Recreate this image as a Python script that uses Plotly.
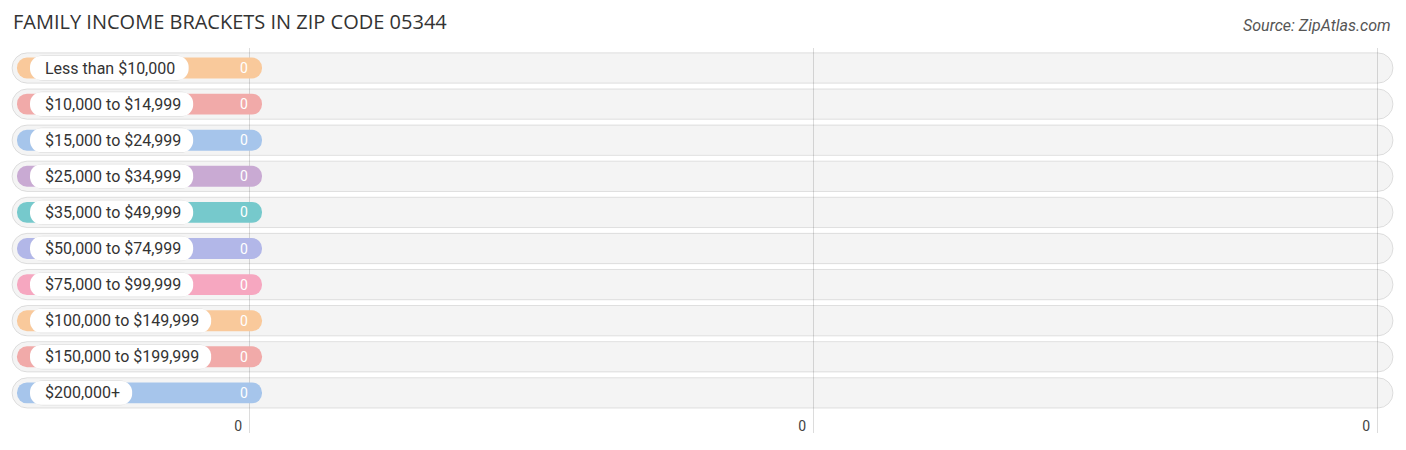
import plotly.graph_objects as go

brackets = ["Less than $10,000", "$10,000 to $14,999", "$15,000 to $24,999",
            "$25,000 to $34,999", "$35,000 to $49,999", "$50,000 to $74,999",
            "$75,000 to $99,999", "$100,000 to $149,999", "$150,000 to $199,999",
            "$200,000+"]
families = [0, 0, 0, 0, 0, 0, 0, 0, 0, 0]
bar_colors = ["#f9c99b", "#f1aaa9", "#a6c5eb", "#c9aad3", "#76c9cc",
              "#b2b7e8", "#f6a7c0", "#f9c99b", "#f1aaa9", "#a6c5eb"]
tick_vals = [0, 1, 2]
tick_text = ["0", "0", "0"]

# page is drawn with an 8px body margin
OFFSET = 8
W, H = 1406 - OFFSET, 450 - OFFSET
# one axis unit = distance between grid lines (in px)
UNIT = 564.0
ZERO_PX = 249


def px(p):
    return (p - ZERO_PX) / UNIT


def text_width(s, size=16):
    # rough Roboto advance widths (em)
    w = 0
    for ch in s:
        if ch.isdigit() or ch == "$":
            w += 0.562
        elif ch == ",":
            w += 0.197
        elif ch == " ":
            w += 0.248
        elif ch == "+":
            w += 0.567
        elif ch in "il":
            w += 0.243
        elif ch in "t":
            w += 0.327
        elif ch == "L":
            w += 0.538
        else:
            w += 0.55
    return w * size


rows = list(range(len(brackets)))
track_start, track_end = px(12), px(1393)
bar_start, stub = px(17), 13 / UNIT
pill_start = px(30)

fig = go.Figure()
fig.add_trace(go.Bar(y=rows, x=[track_end - track_start] * len(rows), base=track_start,
                     orientation='h', width=0.84, hoverinfo='skip',
                     marker=dict(color='rgba(0,0,0,0.045)', cornerradius='50%',
                                 line=dict(color='rgba(0,0,0,0.11)', width=1))))
fig.add_trace(go.Bar(y=rows, x=[v + stub - bar_start for v in families], base=bar_start,
                     orientation='h', width=0.58, hoverinfo='skip',
                     marker=dict(color=bar_colors, cornerradius='50%', line=dict(width=0))))
pill_w = [(text_width(b) + 27) / UNIT for b in brackets]
fig.add_trace(go.Bar(y=rows, x=pill_w, base=pill_start, orientation='h', width=0.70,
                     hoverinfo='skip',
                     marker=dict(color='rgba(0,0,0,0.08)', cornerradius='50%', line=dict(width=0))))
fig.add_trace(go.Bar(y=rows, x=pill_w, base=pill_start, orientation='h', width=0.66,
                     hoverinfo='skip',
                     marker=dict(color='white', cornerradius='50%', line=dict(width=0))))

for r, b, v in zip(rows, brackets, families):
    fig.add_annotation(x=pill_start, y=r, text=b, xanchor='left', showarrow=False,
                       xshift=13, font=dict(family='Roboto', size=16, color='#333333'))
    fig.add_annotation(x=v + stub, y=r, text=str(v), xanchor='right', showarrow=False,
                       xshift=-12, font=dict(family='Roboto', size=14, color='white'))

fig.add_annotation(x=1, y=(425 - 17) / 385, xref='paper', yref='paper', xanchor='right',
                   yanchor='middle', xshift=-13,
                   text="<i>Source: ZipAtlas.com</i>", showarrow=False,
                   font=dict(family='Roboto', size=16, color='#555555'))

fig.update_layout(
    title=dict(text="FAMILY INCOME BRACKETS IN ZIP CODE 05344", x=5 / W, xanchor='left',
               y=1 - 14 / H, yanchor='middle',
               font=dict(family='Open Sans', size=20, color='#333333')),
    barmode='overlay', showlegend=False,
    width=W, height=H,
    margin=dict(l=0, r=0, t=40, b=17),
    paper_bgcolor='white', plot_bgcolor='white',
)
fig.update_xaxes(range=[px(OFFSET), px(1406)], tickvals=tick_vals, ticktext=tick_text,
                 ticklabelposition='inside left', ticklabelstandoff=-7, ticklabelshift=-7,
                 showgrid=True, gridcolor='#dcdcdc',
                 gridwidth=1, zeroline=False, showline=False, ticks='',
                 tickfont=dict(family='Roboto', size=14, color='#444444'))
fig.update_yaxes(range=[(433 - 68) / 36.1, (48 - 68) / 36.1], showticklabels=False,
                 showgrid=False, zeroline=False)

fig.write_html("out.html")
